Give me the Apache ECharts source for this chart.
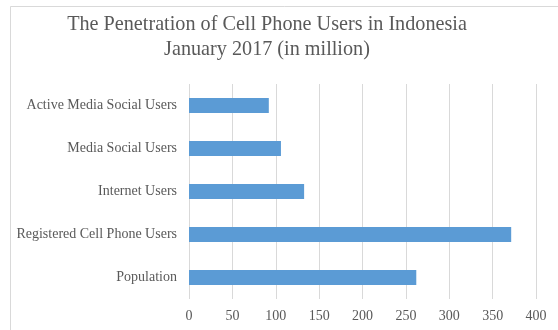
<!DOCTYPE html>
<html>
<head>
<meta charset="utf-8">
<script src="https://cdn.jsdelivr.net/npm/echarts@6/dist/echarts.min.js"></script>
<style>html,body{margin:0;padding:0;background:#fff}#c{width:558px;height:330px}</style>
</head>
<body>
<div id="c"></div>
<script>
var titleText = "The Penetration of Cell Phone Users in Indonesia\nJanuary 2017 (in million)";
var categories = ["Population", "Registered Cell Phone Users", "Internet Users", "Media Social Users", "Active Media Social Users"];
var values = [262, 371.4, 132.7, 106, 92];
var xTicks = {min: 0, max: 400, interval: 50};

var chart = echarts.init(document.getElementById('c'), null, {renderer: 'canvas'});
var font = "'Liberation Serif', 'Times New Roman', serif";
chart.setOption({
  animation: false,
  backgroundColor: '#fff',
  graphic: [{
    type: 'rect', left: 8, top: 4,
    shape: {width: 549, height: 340},
    style: {fill: 'none', stroke: '#d9d9d9', lineWidth: 1}
  }, {
    type: 'text', x: 267, y: 12,
    style: {
      text: titleText, fontFamily: font, fontSize: 20.2, fill: '#595959',
      lineHeight: 25, align: 'center', verticalAlign: 'top'
    }
  }],
  grid: {left: 189, right: 22, top: 84, bottom: 31, containLabel: false},
  xAxis: {
    type: 'value', min: xTicks.min, max: xTicks.max, interval: xTicks.interval,
    axisLine: {show: false}, axisTick: {show: false},
    axisLabel: {fontFamily: font, fontSize: 14, color: '#595959', margin: 10},
    splitLine: {show: true, lineStyle: {color: '#d9d9d9', width: 1}}
  },
  yAxis: {
    type: 'category', data: categories,
    axisLine: {show: false}, axisTick: {show: false},
    axisLabel: {fontFamily: font, fontSize: 14, color: '#595959', margin: 12}
  },
  series: [{
    type: 'bar', data: values, barWidth: 15,
    itemStyle: {color: '#5b9bd5'}
  }]
});
</script>
</body>
</html>
